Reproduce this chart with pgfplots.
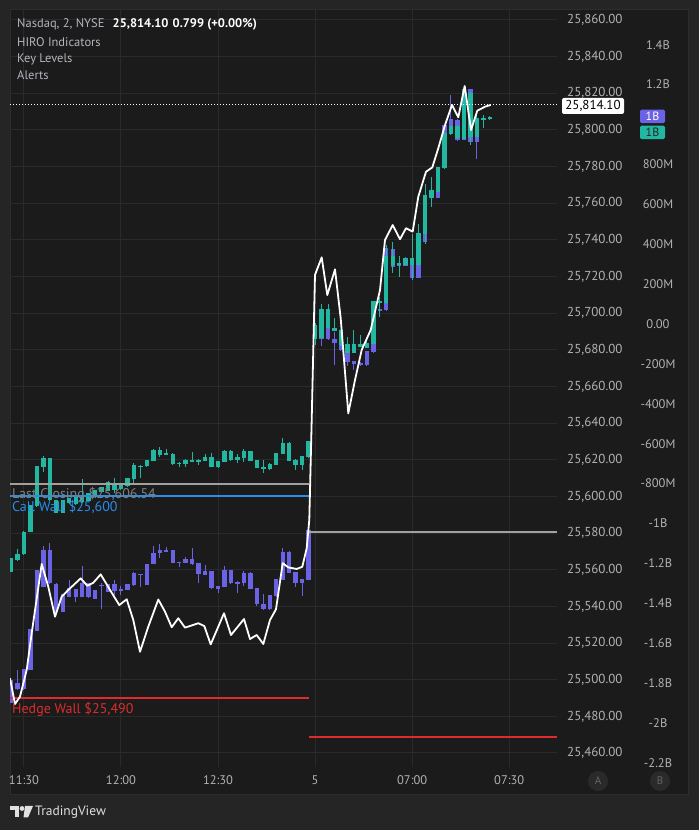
\documentclass[border=0pt]{standalone}
\usepackage{pgfplots}
\pgfplotsset{compat=1.18}
\usepackage{pgfplotstable}
\usepackage{fontspec}
\setmainfont{PT Sans}

\definecolor{outerbg}{RGB}{37,37,37}
\definecolor{panelbg}{RGB}{27,27,27}
\definecolor{panelbd}{RGB}{45,45,45}
\definecolor{gridc}{RGB}{42,42,42}
\definecolor{tickc}{RGB}{178,178,178}
\definecolor{hdrc}{RGB}{178,181,190}
\definecolor{tealc}{RGB}{34,183,160}
\definecolor{purc}{RGB}{107,99,230}
\definecolor{lvlgray}{RGB}{160,160,160}
\definecolor{lvltext}{RGB}{128,128,128}
\definecolor{lvlblue}{RGB}{41,141,233}
\definecolor{lvlred}{RGB}{222,44,44}
\definecolor{circc}{RGB}{42,42,42}
\definecolor{circt}{RGB}{100,100,100}

% Nasdaq candles (teal), i = 2-minute bar number
\pgfplotstableread{
i o h l c
0 25559.0 25566.3 25558.9 25566.3
1 25565.3 25571.7 25565.0 25569.0
2 25568.6 25581.0 25568.4 25580.8
3 25580.8 25595.5 25580.5 25595.3
4 25594.8 25616.8 25594.5 25616.6
5 25615.9 25622.2 25613.5 25620.8
6 25621.0 25621.2 25597.9 25598.1
7 25598.1 25598.3 25590.8 25591.0
8 25591.0 25598.3 25590.8 25598.1
9 25596.4 25599.4 25596.2 25599.2
10 25599.7 25599.9 25595.7 25595.9
11 25597.0 25609.5 25596.8 25600.8
12 25601.9 25602.1 25597.3 25597.5
13 25599.7 25603.7 25599.5 25603.5
14 25602.4 25605.4 25602.2 25605.2
15 25603.0 25608.2 25602.8 25608.0
16 25607.5 25610.1 25601.9 25603.5
17 25603.9 25606.5 25603.7 25606.3
18 25605.7 25610.3 25605.5 25610.1
19 25609.4 25618.3 25606.3 25617.2
20 25616.6 25617.2 25610.1 25616.6
21 25616.6 25620.1 25616.4 25619.9
22 25619.5 25625.9 25619.3 25625.3
23 25625.3 25626.8 25621.7 25622.6
24 25623.2 25625.9 25622.6 25623.2
25 25623.2 25623.5 25617.2 25617.7
26 25618.1 25619.0 25616.2 25618.1
27 25617.7 25620.4 25616.2 25619.9
28 25619.5 25624.1 25619.0 25619.5
29 25619.5 25620.8 25617.2 25619.5
30 25619.5 25623.2 25619.3 25621.4
31 25621.4 25623.5 25616.0 25616.2
32 25616.2 25619.5 25615.7 25619.3
33 25619.0 25625.3 25618.8 25624.8
34 25624.8 25625.7 25619.7 25619.9
35 25619.9 25623.2 25618.1 25621.4
36 25621.2 25625.7 25619.0 25624.8
37 25624.8 25625.0 25619.3 25619.5
38 25619.9 25620.1 25615.5 25615.7
39 25615.9 25619.9 25612.9 25615.0
40 25615.0 25618.6 25614.8 25617.7
41 25617.2 25623.7 25617.0 25623.5
42 25623.2 25631.7 25623.0 25629.5
43 25629.5 25629.7 25619.3 25619.5
44 25619.9 25620.8 25614.4 25617.2
45 25617.2 25622.3 25614.4 25622.1
46 25621.5 25630.5 25621.3 25630.3
47 25686.3 25694.8 25682.6 25693.6
48 25686.6 25705.0 25686.4 25702.3
49 25702.3 25705.0 25691.6 25691.8
50 25692.3 25697.2 25690.2 25690.4
51 25690.8 25691.0 25682.4 25682.6
52 25683.2 25687.2 25678.5 25678.7
53 25678.7 25690.8 25678.5 25683.2
54 25683.6 25688.1 25681.5 25681.7
55 25681.4 25686.3 25681.2 25683.9
56 25683.2 25706.9 25683.0 25706.7
57 25706.7 25708.7 25698.1 25705.9
58 25705.4 25737.2 25705.2 25731.4
59 25731.2 25739.0 25722.1 25726.3
60 25726.3 25731.2 25719.6 25727.6
61 25726.3 25730.2 25726.1 25730.0
62 25730.0 25743.6 25718.1 25726.3
63 25726.3 25748.7 25726.1 25743.6
64 25743.2 25770.5 25738.1 25764.5
65 25763.2 25774.2 25758.1 25767.2
66 25766.3 25779.8 25766.1 25779.6
67 25779.1 25798.4 25778.9 25798.2
68 25797.8 25802.4 25797.6 25802.2
69 25802.3 25802.5 25795.2 25795.4
70 25795.4 25822.4 25795.2 25822.2
71 25820.3 25820.5 25791.8 25796.3
72 25796.3 25809.1 25796.0 25806.4
73 25806.4 25808.2 25801.4 25805.8
74 25805.8 25807.4 25805.6 25807.2
}\tealdata

% second series (purple)
\pgfplotstableread{
i o h l c
0 25487.3 25500.0 25487.1 25499.8
1 25494.8 25505.3 25494.6 25498.4
2 25494.8 25505.9 25494.6 25505.7
3 25505.3 25527.7 25505.1 25527.5
4 25526.7 25560.1 25526.5 25559.9
5 25550.7 25573.0 25550.5 25570.8
6 25570.8 25574.4 25552.4 25552.6
7 25552.6 25552.8 25536.9 25537.1
8 25537.1 25547.0 25536.9 25546.8
9 25545.3 25554.4 25545.1 25549.9
10 25549.5 25549.7 25542.6 25545.3
11 25545.3 25562.0 25545.1 25552.9
12 25552.6 25552.8 25544.8 25545.0
13 25544.4 25549.2 25544.2 25549.0
14 25551.7 25552.6 25538.4 25551.7
15 25548.0 25552.4 25547.8 25552.2
16 25552.2 25554.4 25546.2 25548.6
17 25549.3 25551.1 25546.2 25549.3
18 25549.0 25552.4 25548.8 25552.2
19 25551.7 25558.9 25551.5 25558.1
20 25557.7 25557.9 25550.7 25557.7
21 25551.7 25563.3 25551.5 25563.1
22 25563.1 25573.0 25562.9 25569.3
23 25570.8 25574.0 25566.6 25569.5
24 25570.4 25572.6 25569.8 25570.4
25 25570.8 25571.0 25563.6 25563.8
26 25564.1 25564.3 25561.7 25564.1
27 25563.8 25566.8 25563.6 25565.7
28 25565.7 25571.7 25562.8 25563.0
29 25563.5 25563.7 25552.9 25557.5
30 25557.5 25562.6 25557.3 25559.3
31 25559.3 25559.5 25549.7 25549.9
32 25549.5 25551.3 25547.5 25551.1
33 25550.8 25562.0 25550.6 25559.9
34 25559.9 25560.1 25552.4 25552.6
35 25552.6 25554.0 25547.5 25553.5
36 25552.9 25559.5 25551.3 25558.4
37 25558.4 25558.6 25549.3 25549.5
38 25550.2 25550.4 25540.2 25541.3
39 25541.7 25546.8 25538.0 25538.6
40 25538.6 25546.4 25538.4 25546.2
41 25545.7 25555.2 25545.5 25555.0
42 25554.4 25571.7 25554.2 25569.9
43 25569.9 25570.1 25558.2 25558.4
44 25558.9 25559.1 25550.7 25552.9
45 25552.9 25555.2 25545.7 25555.0
46 25554.4 25581.9 25554.2 25581.7
47 25685.9 25694.8 25682.6 25692.5
48 25685.8 25704.0 25682.1 25701.7
49 25701.7 25704.0 25685.6 25685.8
50 25685.9 25690.0 25671.7 25683.9
51 25685.4 25685.6 25679.7 25679.9
52 25682.7 25682.9 25671.2 25673.5
53 25672.3 25674.3 25669.0 25674.1
54 25673.0 25673.2 25671.5 25671.7
55 25671.7 25679.7 25671.5 25679.5
56 25678.7 25706.9 25678.5 25706.7
57 25702.3 25702.5 25701.0 25701.2
58 25701.7 25735.6 25701.5 25735.4
59 25735.4 25739.0 25722.1 25725.4
60 25725.8 25727.8 25725.6 25727.6
61 25725.8 25730.5 25725.6 25730.3
62 25730.0 25743.6 25718.1 25719.4
63 25719.4 25743.8 25719.2 25743.6
64 25738.7 25764.7 25738.1 25764.5
65 25763.2 25774.2 25758.1 25767.2
66 25763.0 25779.8 25762.8 25779.6
67 25779.1 25802.9 25778.9 25802.7
68 25798.2 25819.1 25798.0 25805.8
69 25805.8 25806.0 25794.3 25794.5
70 25794.5 25822.4 25794.3 25822.2
71 25822.2 25822.4 25791.8 25793.6
72 25793.6 25806.6 25784.5 25806.4
73 25806.4 25808.2 25801.4 25805.8
74 25806.7 25807.4 25806.5 25807.2
}\purdata

% HIRO line, billions
\pgfplotstableread{
i v
-0.155 -1.776
0.618 -1.905
1.391 -1.868
2.427 -1.734
3.199 -1.550
4.745 -1.203
5.765 -1.317
6.801 -1.467
7.836 -1.367
8.856 -1.333
10.773 -1.275
11.793 -1.312
12.720 -1.297
13.864 -1.255
15.301 -1.333
16.739 -1.409
17.883 -1.380
18.903 -1.484
19.938 -1.643
21.221 -1.517
22.767 -1.381
23.802 -1.442
24.838 -1.520
25.858 -1.475
26.893 -1.522
28.949 -1.500
29.876 -1.514
30.866 -1.606
32.921 -1.450
34.003 -1.559
36.012 -1.479
36.940 -1.579
37.975 -1.559
38.995 -1.604
40.031 -1.484
40.958 -1.430
41.994 -1.199
42.859 -1.220
44.158 -1.228
45.023 -1.217
45.703 -1.124
46.105 -0.982
46.476 -0.481
46.986 0.246
48.022 0.334
48.887 0.145
50.077 0.274
50.958 0.029
52.133 -0.448
53.168 -0.281
54.204 -0.130
55.595 -0.030
57.033 0.170
57.805 0.421
58.995 0.496
60.124 0.425
61.051 0.480
62.087 0.463
62.952 0.638
64.142 0.763
65.116 0.785
66.043 0.881
67.079 0.997
68.161 1.098
69.135 1.036
70.124 1.193
71.097 0.972
72.071 1.069
73.261 1.089
74.142 1.098
}\hirodata

% key levels: session 1 runs to bar 46.06, session 2 from there
\pgfplotstableread{
x lastclose callwall hedgewall
-0.155 25606.54 25600 25490
46.06 25606.54 25600 25490
}\levelsone
\pgfplotstableread{
x lastclose hedgewall
46.06 25580.6 25469
84.39 25580.6 25469
}\levelstwo

\newcommand{\candles}[2]{%
  \addplot[draw=none, forget plot, error bars/.cd, y dir=both, y explicit,
    error mark=none, error bar style={draw=#2, line width=1pt}]
    table[x=i, y expr={(\thisrow{h}+\thisrow{l})/2},
      y error expr={(\thisrow{h}-\thisrow{l})/2}] {#1};
  \addplot[draw=none, forget plot, error bars/.cd, y dir=both, y explicit,
    error mark=none, error bar style={draw=#2, line width=4.4pt}]
    table[x=i, y expr={(\thisrow{o}+\thisrow{c})/2},
      y error expr={max(abs(\thisrow{o}-\thisrow{c})/2,0.3)}] {#1};
}

\begin{document}
\begin{tikzpicture}[x=1pt,y=1pt]
\fill[outerbg] (0,0) rectangle (699,830);
\fill[panelbg] (10,35) rectangle (688,820);
\draw[panelbd, line width=1pt] (10,35) rectangle (688,820);

\begin{axis}[
  at={(10pt,63pt)}, anchor=south west, scale only axis,
  width=547pt, height=757pt,
  xmin=-0.155, xmax=84.39, ymin=25452.36, ymax=25865.46,
  scaled x ticks=false, scaled y ticks=false,
  axis line style={draw=none}, major tick length=0pt,
  grid=major, major grid style={gridc, line width=1pt},
  xtick={2,17,32,47,62,77},
  xticklabels={11:30,12:00,12:30,5,07:00,07:30},
  xticklabel style={anchor=center, yshift=-13pt, text=tickc, font=\fontsize{12.5}{14}\selectfont},
  ytick={25460,25480,25500,25520,25540,25560,25580,25600,25620,25640,25660,25680,25700,25720,25740,25760,25780,25800,25820,25840,25860},
  yticklabels={25{,}460.00,25{,}480.00,25{,}500.00,25{,}520.00,25{,}540.00,25{,}560.00,25{,}580.00,25{,}600.00,25{,}620.00,25{,}640.00,25{,}660.00,25{,}680.00,25{,}700.00,25{,}720.00,25{,}740.00,25{,}760.00,25{,}780.00,25{,}800.00,25{,}820.00,25{,}840.00,25{,}860.00},
  yticklabel pos=right,
  yticklabel style={anchor=west, inner sep=0pt, xshift=10pt, text=tickc, font=\fontsize{13}{15}\selectfont},
]
\candles{\purdata}{purc}
\candles{\tealdata}{tealc}
\addplot[draw=lvlgray, line width=2pt] table[x=x, y=lastclose] {\levelsone};
\addplot[draw=lvlblue, line width=2pt] table[x=x, y=callwall] {\levelsone};
\addplot[draw=lvlred, line width=2pt] table[x=x, y=hedgewall] {\levelsone};
\addplot[draw=lvlgray, line width=2pt] table[x=x, y=lastclose] {\levelstwo};
\addplot[draw=lvlred, line width=2pt] table[x=x, y=hedgewall] {\levelstwo};
\addplot[draw=white, line width=1pt, dash pattern=on 1pt off 2pt] coordinates {(-0.155,25814.1) (84.39,25814.1)};
\end{axis}

% HIRO scale; its 1B tick sits under the marker boxes
\begin{axis}[
  at={(10pt,63pt)}, anchor=south west, scale only axis,
  width=547pt, height=757pt,
  xmin=-0.155, xmax=84.39, ymin=-2.2206, ymax=1.5739,
  axis line style={draw=none}, major tick length=0pt,
  xtick=\empty,
  ytick={-2.2,-2.0,-1.8,-1.6,-1.4,-1.2,-1.0,-0.8,-0.6,-0.4,-0.2,0,0.2,0.4,0.6,0.8,1.2,1.4},
  yticklabels={-2.2B,-2B,-1.8B,-1.6B,-1.4B,-1.2B,-1B,-800M,-600M,-400M,-200M,0.00,200M,400M,600M,800M,1.2B,1.4B},
  yticklabel pos=right,
  yticklabel style={anchor=center, inner sep=0pt, xshift=101pt, text=tickc, font=\fontsize{12.5}{14}\selectfont},
]
\addplot[white, line width=1.8pt, line join=round] table[x=i, y=v] {\hirodata};
\end{axis}

% legend at top left
\node[anchor=west, text=hdrc, font=\fontsize{12.5}{14}\selectfont, inner sep=0pt] at (17,806) {Nasdaq, 2, NYSE};
\node[anchor=west, text=white, font=\fontsize{12.5}{14}\selectfont\bfseries, inner sep=0pt] at (112.5,806) {25,814.10};
\node[anchor=west, text=white, font=\fontsize{12.5}{14}\selectfont\bfseries, inner sep=0pt] at (172.5,806) {0.799 (+0.00\%)};
\node[anchor=west, text=hdrc, font=\fontsize{12.5}{14}\selectfont, inner sep=0pt] at (17,788) {HIRO Indicators};
\node[anchor=west, text=hdrc, font=\fontsize{12.5}{14}\selectfont, inner sep=0pt] at (17,771) {Key Levels};
\node[anchor=west, text=hdrc, font=\fontsize{12.5}{14}\selectfont, inner sep=0pt] at (17,755) {Alerts};

% key level captions
\node[anchor=west, text=lvltext, font=\fontsize{14}{16}\selectfont, inner sep=0pt] at (12,336) {Last Closing \$25,606.54};
\node[anchor=west, text=lvlblue, font=\fontsize{14}{16}\selectfont, inner sep=0pt] at (12,323) {Call Wall \$25,600};
\node[anchor=west, text=lvlred, font=\fontsize{14}{16}\selectfont, inner sep=0pt] at (12,121) {Hedge Wall \$25,490};

% price scale markers
\node[fill=white, rounded corners=2pt, text=black, font=\fontsize{13}{15}\selectfont, inner sep=0pt, minimum width=62pt, minimum height=16pt] at (593,724) {25,814.10};
\node[fill=purc, rounded corners=1.5pt, text=white, font=\fontsize{12}{14}\selectfont, inner sep=0pt, minimum width=25pt, minimum height=13.5pt] at (652.5,713.5) {1B};
\node[fill=tealc, rounded corners=1.5pt, text=black!85, font=\fontsize{12}{14}\selectfont, inner sep=0pt, minimum width=25pt, minimum height=13.5pt] at (652.5,697.5) {1B};

% scale buttons
\node[circle, fill=circc, text=circt, minimum size=20pt, inner sep=0pt, font=\fontsize{11}{13}\selectfont] at (598,49) {A};
\node[circle, fill=circc, text=circt, minimum size=20pt, inner sep=0pt, font=\fontsize{11}{13}\selectfont] at (660,49) {B};

% TradingView mark
\fill[white!88!black] (10,24) rectangle (18.5,19.5);
\fill[white!88!black] (14.5,24) rectangle (18.5,12.5);
\fill[white!88!black] (22,21.5) circle (2.4);
\fill[white!88!black] (25,24) -- (33,24) -- (28,12.5) -- (23.5,12.5) -- cycle;
\node[anchor=west, text=white!88!black, font=\fontsize{13.5}{15}\selectfont, inner sep=0pt] at (35,18) {TradingView};
\end{tikzpicture}
\end{document}
